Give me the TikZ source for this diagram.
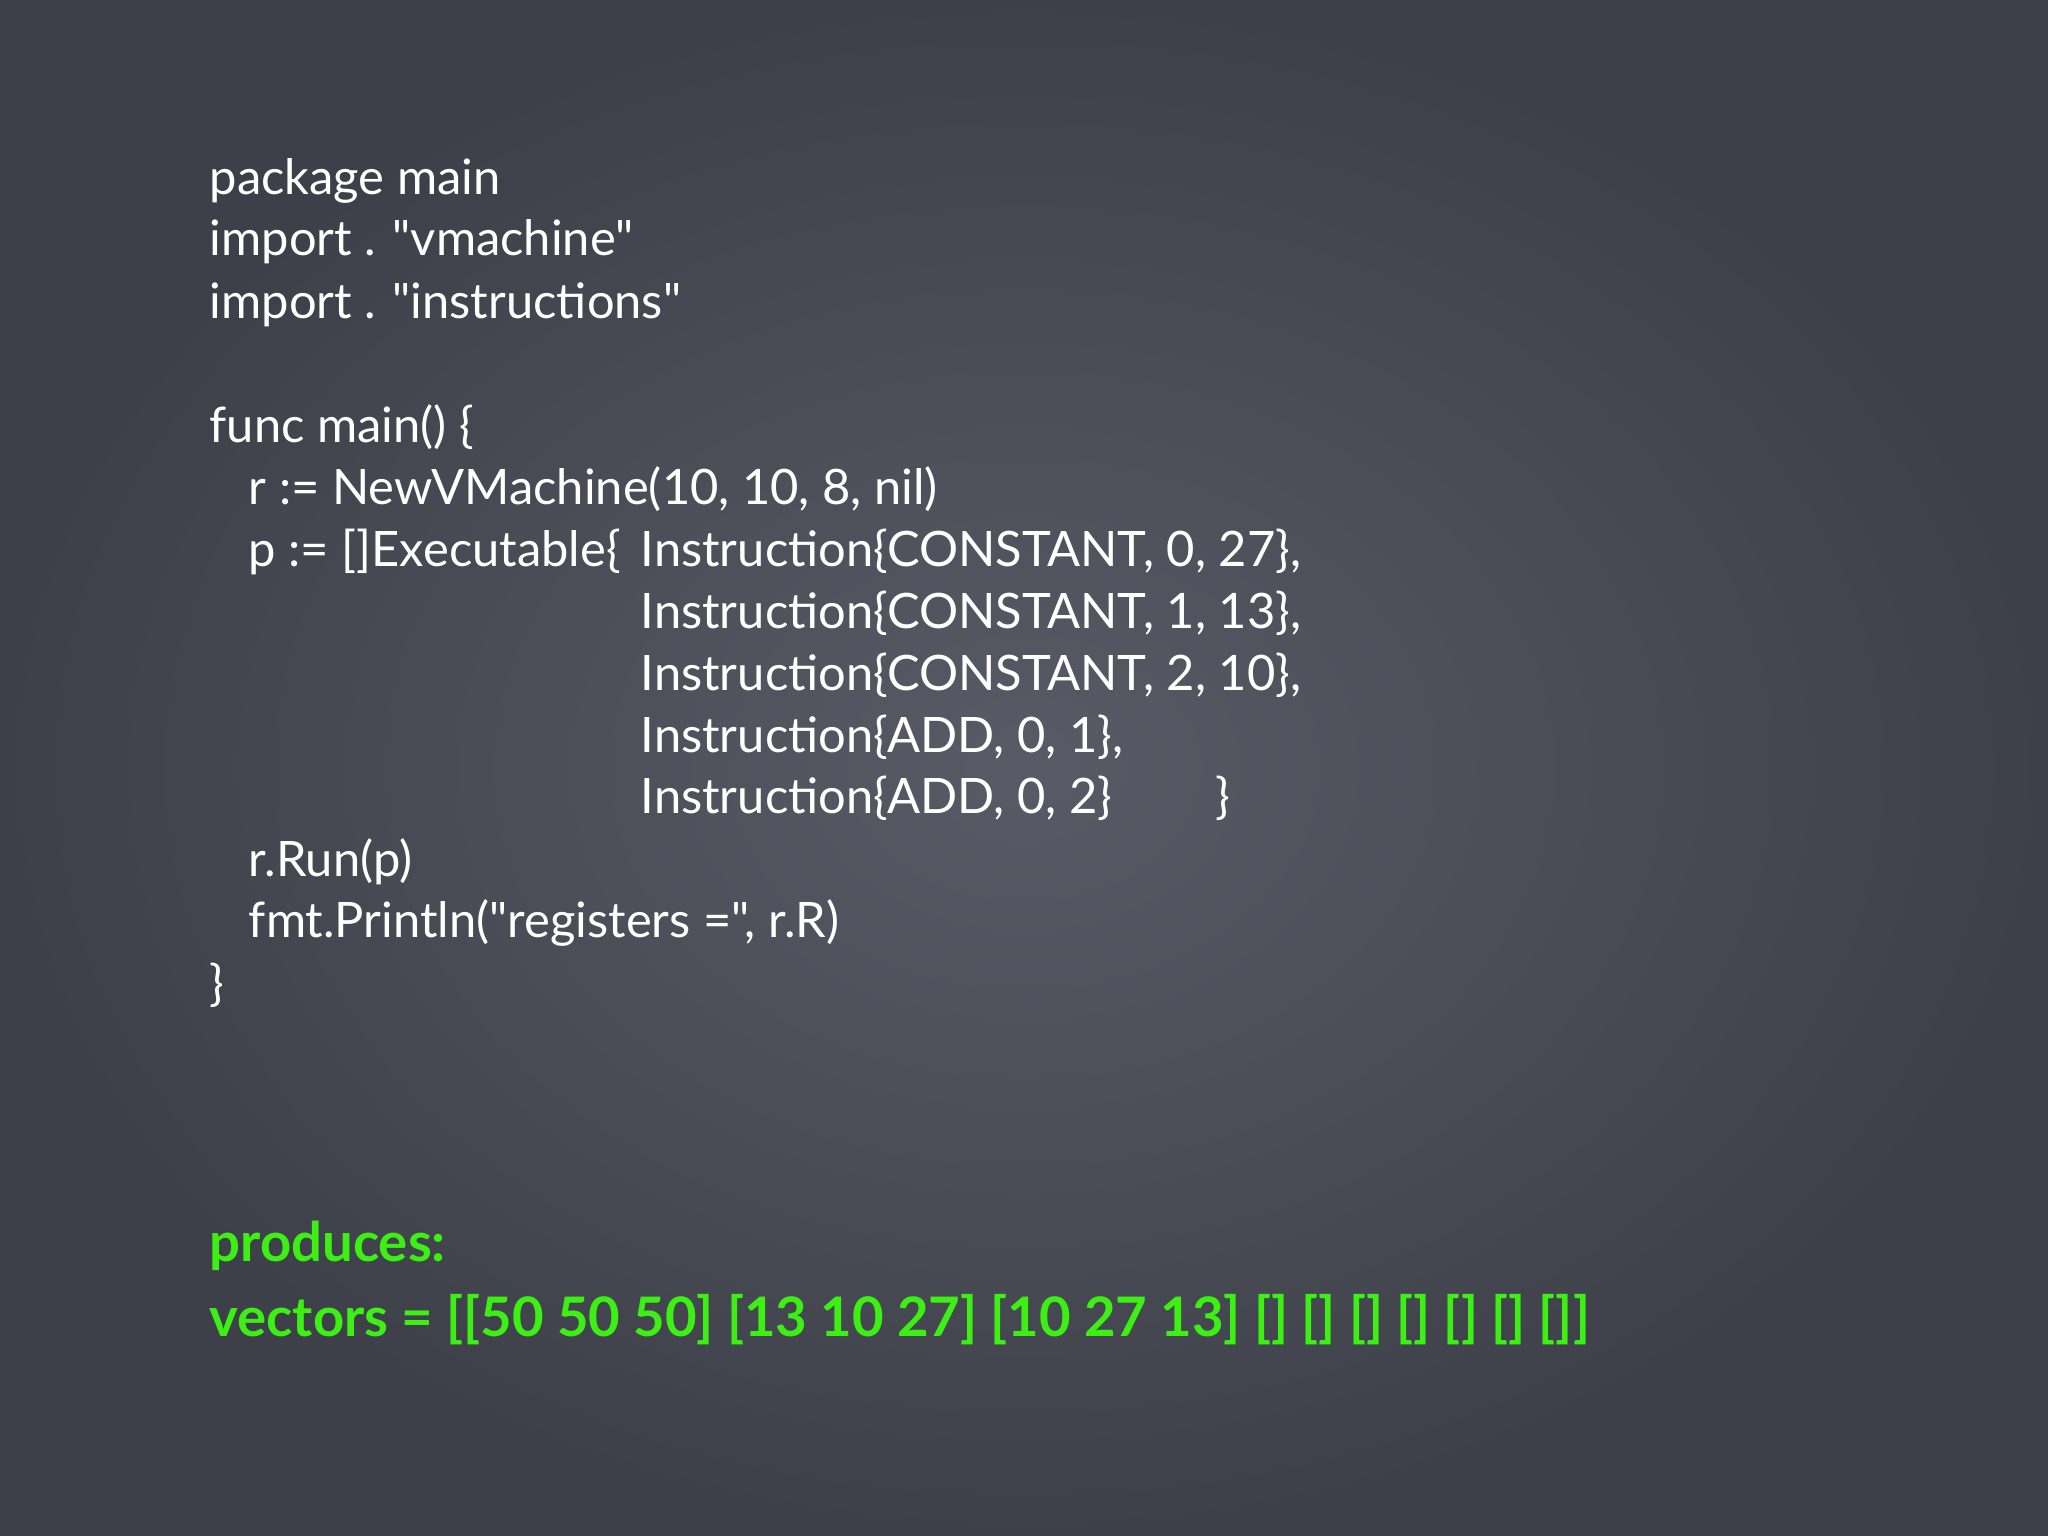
\documentclass[tikz,border=0pt]{standalone}
\usepackage{fontspec}
\newfontfamily\plainlato{Lato}
\newfontfamily\plainlatob{Lato Bold}
\newcommand{\dq}{"}
\begin{document}
\begin{tikzpicture}[x=0.01306cm,y=-0.01306cm,
  code/.style={anchor=base west,inner sep=0pt,text=white,font=\plainlato\fontsize{13.9pt}{17pt}\selectfont},
  greenout/.style={anchor=base west,inner sep=0pt,text={rgb,255:red,60;green,240;blue,20},font=\plainlato\bfseries\fontsize{15.5pt}{18pt}\selectfont}]
\useasboundingbox (0,0) rectangle (1568,1176);
\shade[inner color={rgb,255:red,88;green,91;blue,101},outer color={rgb,255:red,62;green,64;blue,73}] (0,0) rectangle (1568,1176);
\node[code] (l1) at (160,149) {package main};
\node[code] (l2) at (160,196) {import . "vmachine"};
\node[code] (l3) at (160,244) {import . "instructions"};
\node[code] (l4) at (160,339) {func main() \{};
\node[code] (l5) at (190,386) {r := NewVMachine(10, 10, 8, nil)};
\node[code] (l6) at (190,434) {p := []Executable\{};
\node[code] (i1) at (490,434) {Instruction\{CONSTANT, 0, 27\},};
\node[code] (i2) at (490,481) {Instruction\{CONSTANT, 1, 13\},};
\node[code] (i3) at (490,529) {Instruction\{CONSTANT, 2, 10\},};
\node[code] (i4) at (490,576) {Instruction\{ADD, 0, 1\},};
\node[code] (i5) at (490,623) {Instruction\{ADD, 0, 2\}};
\node[code] (cb) at (930,623) {\}};
\node[code] (l7) at (190,671) {r.Run(p)};
\node[code] (l8) at (190,718) {fmt.Println("registers =", r.R)};
\node[code] (l9) at (160,766) {\}};
\node[greenout] (o1) at (160,966) {produces:};
\node[greenout] (o2) at (160,1023) {vectors = [[50 50 50] [13 10 27] [10 27 13] [] [] [] [] [] [] []]};
\end{tikzpicture}
\end{document}
